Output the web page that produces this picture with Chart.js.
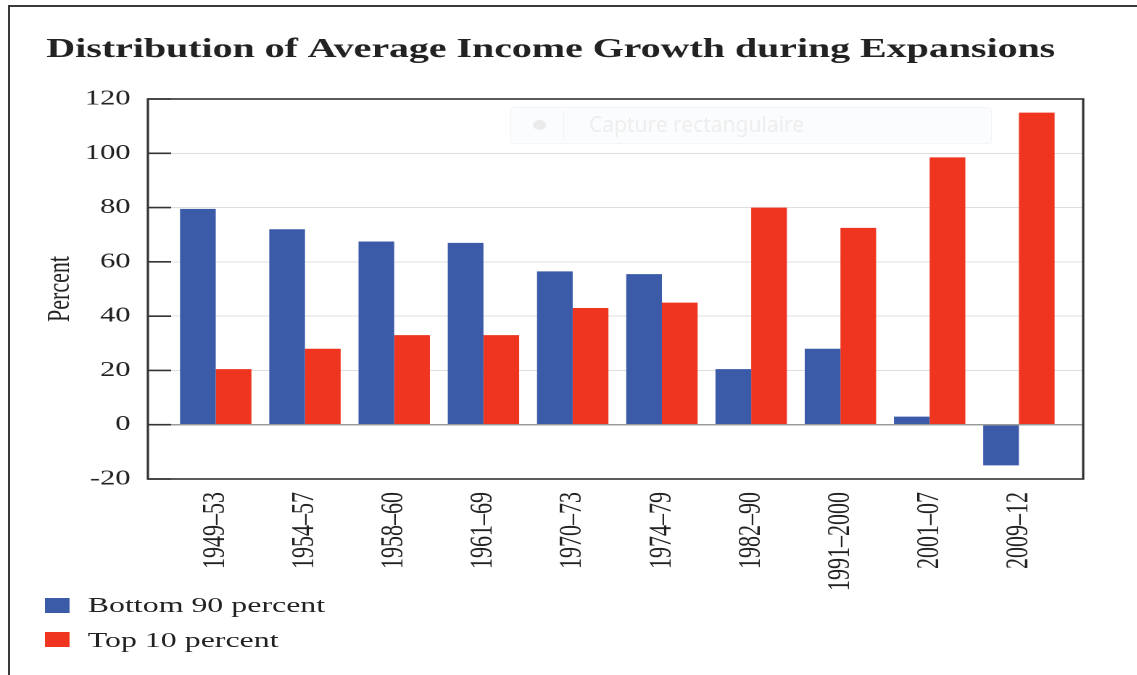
<!DOCTYPE html>
<html>
<head>
<meta charset="utf-8">
<script src="https://cdn.jsdelivr.net/npm/chart.js@4"></script>
<style>
    html, body { margin: 0; padding: 0; background: #fff; }
    body { width: 1137px; height: 675px; position: relative; overflow: hidden; }
    #page-edge { position: absolute; left: 8px; top: 5px; width: 1200px; height: 700px;
        border-left: 2px solid #3a3a3a; border-top: 2px solid #3a3a3a; }
    /* the figure is set in a narrow box and widened horizontally */
    #figure { position: absolute; left: 0; top: 0; width: 784px; height: 675px;
        transform: scaleX(1.45); transform-origin: 0 0; }
    #legend { position: absolute; left: 31px; top: 588px; font-family: "Liberation Serif", serif;
        font-size: 22px; color: #222; }
    #legend div { height: 34.5px; display: flex; align-items: center; }
    #legend span.box { display: inline-block; width: 16.5px; height: 15px; margin-right: 13px; }
    #capture { position: absolute; left: 510px; top: 107px; width: 480px; height: 35px;
        background: rgba(249, 251, 253, 0.7); border: 1px solid #f3f5f8; border-radius: 3px;
        font-family: "Noto Sans", sans-serif; font-size: 21px; color: #eeeeee; }
    #capture .dot { position: absolute; left: 22px; top: 12px; width: 13px; height: 10px;
        border-radius: 50%; background: #ebebeb; }
    #capture .sep { position: absolute; left: 52px; top: 3px; width: 1px; height: 29px; background: #f4f4f4; }
    #capture .txt { position: absolute; left: 78px; top: 2px; }
</style>
</head>
<body>
<div id="page-edge"></div>
<div id="figure">
    <canvas id="incomeChart" width="784" height="675"></canvas>
    <div id="legend"></div>
</div>
<div id="capture"><span class="dot"></span><span class="sep"></span><span class="txt">Capture rectangulaire</span></div>
<script>
const periods = ["1949–53", "1954–57", "1958–60", "1961–69", "1970–73",
                 "1974–79", "1982–90", "1991–2000", "2001–07", "2009–12"];
const bottom90 = [79.5, 72, 67.5, 67, 56.5, 55.5, 20.5, 28, 3, -15];
const top10 = [20.5, 28, 33, 33, 43, 45, 80, 72.5, 98.5, 115];
const yTicks = [-20, 0, 20, 40, 60, 80, 100, 120];

const seriesNames = ["Bottom 90 percent", "Top 10 percent"];
const seriesColors = ["#3b5aa8", "#ef3420"];

const toPoints = values => values.map((v, i) => ({ x: i, y: v }));

// box around the plot plus the short inward tick marks on the left side
const plotFrame = {
    id: "plotFrame",
    afterDatasetsDraw(chart) {
        const { ctx, chartArea: a, scales: { y } } = chart;
        ctx.save();
        ctx.strokeStyle = "#333";
        ctx.lineWidth = 1.6;
        ctx.beginPath();
        yTicks.forEach(t => {
            const py = y.getPixelForValue(t);
            ctx.moveTo(a.left, py);
            ctx.lineTo(a.left + 16, py);
        });
        ctx.stroke();
        ctx.strokeRect(a.left, a.top, a.right - a.left, a.bottom - a.top);
        ctx.restore();
    }
};

const chart = new Chart(document.getElementById("incomeChart"), {
    type: "bar",
    data: {
        datasets: [
            { label: seriesNames[0], data: toPoints(bottom90), backgroundColor: seriesColors[0] },
            { label: seriesNames[1], data: toPoints(top10), backgroundColor: seriesColors[1] }
        ]
    },
    options: {
        responsive: false,
        animation: false,
        devicePixelRatio: 2,
        layout: { padding: { left: 32, right: 37, top: 0, bottom: 71 } },
        datasets: { bar: { categoryPercentage: 0.8, barPercentage: 1 } },
        plugins: {
            legend: { display: false },
            tooltip: { enabled: false },
            title: {
                display: true,
                text: "Distribution of Average Income Growth during Expansions",
                align: "start",
                color: "#222",
                font: { family: "Liberation Serif", size: 27.5, weight: "bold" },
                padding: { top: 33.3, bottom: 32.7 }
            }
        },
        scales: {
            x: {
                type: "linear",
                offset: false,
                min: -0.76,
                max: 9.72,
                afterBuildTicks: scale => {
                    scale.ticks = periods.map((p, i) => ({ value: i }));
                },
                grid: { display: false, drawTicks: false },
                border: { display: false },
                ticks: {
                    autoSkip: false,
                    maxRotation: 90,
                    minRotation: 90,
                    padding: 13,
                    color: "#222",
                    font: { family: "Liberation Serif", size: 22 },
                    callback: v => periods[v]
                }
            },
            y: {
                min: -20,
                max: 120,
                afterBuildTicks: scale => {
                    scale.ticks = yTicks.map(v => ({ value: v }));
                },
                afterFit: scale => {
                    scale.width = 70;
                },
                grid: {
                    drawTicks: false,
                    color: c => (c.tick && c.tick.value === 0 ? "#9a9a9a" : "#dedede"),
                    lineWidth: c => (c.tick && c.tick.value === 0 ? 1.5 : 1)
                },
                border: { display: false },
                title: {
                    display: true,
                    text: "Percent",
                    color: "#222",
                    padding: { top: -3.5, bottom: 0 },
                    font: { family: "Liberation Serif", size: 22 }
                },
                ticks: {
                    padding: 12,
                    color: "#222",
                    font: { family: "Liberation Serif", size: 21 }
                }
            }
        }
    },
    plugins: [plotFrame]
});

// legend as a two-row list under the axis labels
const legendEl = document.getElementById("legend");
seriesNames.forEach((name, i) => {
    const row = document.createElement("div");
    const box = document.createElement("span");
    box.className = "box";
    box.style.background = seriesColors[i];
    row.appendChild(box);
    row.appendChild(document.createTextNode(name));
    legendEl.appendChild(row);
});
</script>
</body>
</html>
